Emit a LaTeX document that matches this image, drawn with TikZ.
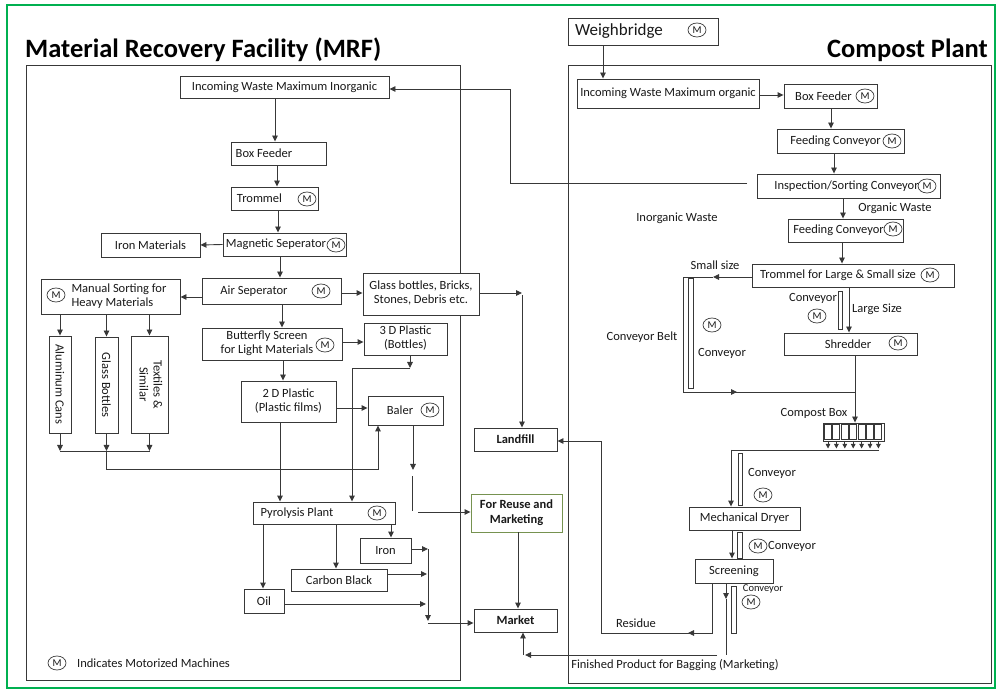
\documentclass[tikz,border=0pt]{standalone}
\usepackage{fontspec}
\setmainfont{Carlito}
\usetikzlibrary{arrows.meta,shapes.geometric}
\definecolor{linec}{RGB}{56,56,56}
\definecolor{framegreen}{RGB}{0,176,80}
\definecolor{reusec}{RGB}{118,146,80}
\newcommand{\tlines}[1]{\begin{tabular}{@{}c@{}}#1\end{tabular}}
\newcommand{\tlinesl}[1]{\begin{tabular}{@{}l@{}}#1\end{tabular}}
% trailing space that survives the node's final \unskip
\newcommand{\tgap}[1]{\hspace{#1}\null}
\begin{document}
\begin{tikzpicture}[x=1pt,y=-1pt,
  ln/.style={draw=linec, line width=0.9pt},
  arr/.style={ln, -{Triangle[length=6pt,width=5.5pt]}},
  box/.style={draw=linec, line width=0.9pt, fill=white, inner sep=0pt, text=black!90,
    font=\fontsize{12.5}{14}\selectfont},
  boldbox/.style={box, font=\fontsize{12.5}{14.5}\selectfont\bfseries},
  belt/.style={draw=linec, line width=0.8pt, fill=white, inner sep=0pt},
  motor/.style={ellipse, draw=linec, line width=0.7pt, inner sep=0pt,
    minimum width=18pt, minimum height=14pt, text=black!90, font=\fontsize{10.5}{10.5}\selectfont},
  lbl/.style={inner sep=0pt, text=black!90, font=\fontsize{12.5}{14}\selectfont},
  title/.style={inner sep=0pt, text=black, font=\fontsize{26.5}{30}\selectfont\bfseries}]
\useasboundingbox (0,0) rectangle (999,692);
\fill[white] (0,0) rectangle (999,692);
\draw[framegreen, line width=2pt] (7,5) rectangle (995,688);

% ---------- section frames and titles ----------
\node[title, anchor=base west] (mrftitle) at (25,58) {Material Recovery Facility (MRF)};
\node[title, anchor=base east] (cptitle) at (988,58) {Compost Plant};
\draw[ln] (26,65) rectangle (460,680);
\draw[ln] (568,65) rectangle (991,683);

% ---------- MRF boxes ----------
\node[box, minimum width=209pt, minimum height=22pt] (inorg) at (284.5,87) {Incoming Waste Maximum Inorganic};
\node[box, minimum width=95pt, minimum height=23pt] (bf1) at (278.5,153.5) {Box Feeder\tgap{29pt}};
\node[box, minimum width=87pt, minimum height=23pt] (tr1) at (274.5,198.5) {Trommel\tgap{30pt}};
\node[motor] (m-tr1) at (307,199) {M};
\node[box, minimum width=123pt, minimum height=23pt] (mag) at (284.5,244.5) {Magnetic Seperator\tgap{17pt}};
\node[motor] (m-mag) at (336,245) {M};
\node[box, minimum width=99pt, minimum height=24pt] (ironm) at (150.5,245) {Iron Materials};
\node[box, minimum width=139pt, minimum height=26pt] (air) at (271.5,291) {Air Seperator\tgap{35pt}};
\node[motor] (m-air) at (321,291) {M};
\node[box, minimum width=139pt, minimum height=35pt] (manual) at (110.5,296.5) {\hspace{17pt}\tlinesl{Manual Sorting for\\Heavy Materials}};
\node[motor] (m-manual) at (56,295) {M};
\node[box, rotate=-90, minimum width=97pt, minimum height=22pt] (alum) at (60,384.5) {Aluminum Cans};
\node[box, rotate=-90, minimum width=96pt, minimum height=23pt] (glb) at (106.5,385) {Glass Bottles};
\node[box, rotate=-90, minimum width=97pt, minimum height=37pt] (tex) at (149.5,384.5) {\tlines{Textiles \&\\Similar}};
\node[box, minimum width=116pt, minimum height=42pt] (glass) at (421,294) {\tlines{Glass bottles, Bricks,\\Stones, Debris etc.}};
\node[box, minimum width=140pt, minimum height=32pt] (bfly) at (272,344) {\tlines{Butterfly Screen\\for Light Materials}\tgap{10pt}};
\node[motor] (m-bfly) at (325,345) {M};
\node[box, minimum width=83pt, minimum height=32pt] (p3d) at (405.5,339) {\tlines{3 D Plastic\\(Bottles)}};
\node[box, minimum width=95pt, minimum height=41pt] (p2d) at (288.5,401.5) {\tlines{2 D Plastic\\(Plastic films)}};
\node[box, minimum width=75pt, minimum height=29pt] (baler) at (405.5,410.5) {Baler\tgap{11pt}};
\node[motor] (m-baler) at (430,410) {M};
\node[box, minimum width=142pt, minimum height=22pt] (pyro) at (324,513) {Pyrolysis Plant\tgap{54pt}};
\node[motor] (m-pyro) at (377,513) {M};
\node[box, minimum width=51pt, minimum height=25pt] (iron) at (385.5,550.5) {Iron};
\node[box, minimum width=96pt, minimum height=22pt] (carbon) at (339,580) {Carbon Black};
\node[box, minimum width=40pt, minimum height=24pt] (oil) at (264,601) {Oil};

% ---------- destinations ----------
\node[boldbox, minimum width=83pt, minimum height=23pt] (landfill) at (515.5,439.5) {Landfill};
\node[boldbox, draw=reusec, minimum width=91pt, minimum height=38pt] (reuse) at (516.5,513) {\tlines{For Reuse and\\Marketing}};
\node[boldbox, minimum width=83pt, minimum height=23pt] (market) at (515.5,620.5) {Market};

% ---------- legend ----------
\node[motor] (m-legend) at (57,663) {M};
\node[lbl, anchor=west] (legend) at (77,663) {Indicates Motorized Machines};

% ---------- compost plant boxes ----------
\node[box, font=\fontsize{17}{20}\selectfont, minimum width=150pt, minimum height=27pt] (weigh) at (643,31.5) {Weighbridge\tgap{48pt}};
\node[motor] (m-weigh) at (697,30) {M};
\node[box, minimum width=182pt, minimum height=29pt] (org) at (668,93.5) {Incoming Waste Maximum organic};
\node[box, minimum width=93pt, minimum height=24pt] (bf2) at (830.5,96) {Box Feeder\tgap{14pt}};
\node[motor] (m-bf2) at (865,96) {M};
\node[box, minimum width=127pt, minimum height=24pt] (feed1) at (840.5,141) {Feeding Conveyor\tgap{10pt}};
\node[motor] (m-feed1) at (892,141) {M};
\node[box, minimum width=183pt, minimum height=24pt] (insp) at (848.5,186) {Inspection/Sorting Conveyor\tgap{4pt}};
\node[motor] (m-insp) at (927,186) {M};
\node[box, minimum width=115pt, minimum height=23pt] (feed2) at (845.5,230.5) {Feeding Conveyor\tgap{14pt}};
\node[motor] (m-feed2) at (893,229) {M};
\node[box, minimum width=202pt, minimum height=23pt] (trom2) at (853,275.5) {Trommel for Large \& Small size\tgap{30pt}};
\node[motor] (m-trom2) at (930,275) {M};
\node[box, minimum width=133pt, minimum height=22pt] (shred) at (850.5,344) {Shredder\tgap{5pt}};
\node[motor] (m-shred) at (898,343) {M};
\node[box, minimum width=61pt, minimum height=18pt] (cbox) at (853.5,432) {};
\foreach \i in {0,...,6} {
  \draw[ln, line width=0.9pt] (824.5+8.4*\i,424.5) rectangle (831.5+8.4*\i,439.5);
  \draw[ln, line width=0.8pt, -{Triangle[length=4.5pt,width=4.5pt]}] (828+8.4*\i,441) -- (828+8.4*\i,448.5);
}
\node[box, minimum width=111pt, minimum height=23pt] (dryer) at (744.5,518.5) {Mechanical Dryer};
\node[box, minimum width=78pt, minimum height=24pt] (screen) at (734,571) {Screening};

% ---------- conveyor belts ----------
\node[belt, minimum width=5pt, minimum height=110pt] (belt1) at (690.5,333) {};
\node[belt, minimum width=4pt, minimum height=38pt] (belt2) at (840,310) {};
\node[belt, minimum width=4pt, minimum height=52pt] (belt3) at (740,479) {};
\node[belt, minimum width=5pt, minimum height=26pt] (belt4) at (739.5,545) {};
\node[belt, minimum width=5pt, minimum height=47pt] (belt5) at (733.5,609.5) {};

% ---------- compost labels ----------
\node[lbl] (l-org) at (895,208) {Organic Waste};
\node[lbl] (l-inorg) at (677,218) {Inorganic Waste};
\node[lbl] (l-small) at (715,265) {Small size};
\node[lbl] (l-belt) at (642,337) {Conveyor Belt};
\node[motor] (m-belt1) at (712,325) {M};
\node[lbl] (l-conv1) at (722,353) {Conveyor};
\node[lbl] (l-conv2) at (813,298) {Conveyor};
\node[motor] (m-belt2) at (817,316) {M};
\node[lbl] (l-large) at (877,309) {Large Size};
\node[lbl] (l-cbox) at (814,413) {Compost Box};
\node[lbl] (l-conv3) at (772,473) {Conveyor};
\node[motor] (m-belt3) at (763,495) {M};
\node[motor] (m-belt4) at (758,546) {M};
\node[lbl] (l-conv4) at (792,546) {Conveyor};
\node[lbl, font=\fontsize{10.5}{12}\selectfont] (l-conv5) at (763,589) {Conveyor};
\node[motor] (m-belt5) at (751,602) {M};
\node[lbl] (l-res) at (636,623) {Residue};
\node[lbl] (l-fin) at (675,665) {Finished Product for Bagging (Marketing)};

% ---------- MRF flow ----------
\draw[arr] (inorg.south -| 275,0) -- (bf1.north -| 275,0);
\draw[arr] (bf1.south -| 277,0) -- (tr1.north -| 277,0);
\draw[arr] (tr1.south -| 278,0) -- (mag.north -| 278,0);
\draw[arr] (mag.west) -- (ironm.east);
\draw[arr] (mag.south -| 280,0) -- (air.north -| 280,0);
\draw[arr] (air.west |- 0,297) -- (manual.east |- 0,297);
\draw[arr] (air.east |- 0,293) -- (glass.west |- 0,293);
\draw[arr] (air.south -| 282,0) -- (bfly.north -| 282,0);
\draw[arr] (bfly.east |- 0,342) -- (p3d.west |- 0,342);
\draw[arr] (bfly.south -| 283,0) -- (p2d.north -| 283,0);
\draw[arr] (manual.south -| alum.center) -- (alum.west);
\draw[arr] (manual.south -| glb.center) -- (glb.west);
\draw[arr] (manual.south -| tex.center) -- (tex.west);
\draw[arr] (alum.east) -- (alum.east |- 0,451);
\draw[arr] (glb.east) -- (glb.east |- 0,451);
\draw[arr] (tex.east) -- (tex.east |- 0,451);
\draw[ln] (alum.east |- 0,451) -- (tex.east |- 0,451);
\draw[arr] (glb.east |- 0,451) -- (glb.east |- 0,469) -| (baler.south -| 378,0);
\draw[arr] (p2d.east |- 0,408) -- (baler.west |- 0,408);
\draw[arr] (p2d.south -| 280,0) -- (pyro.north -| 280,0);
\coordinate (p3d-turn) at (410,368);
\draw[arr] (p3d.south -| p3d-turn) -- (p3d-turn);
\draw[arr] (p3d-turn) -| (pyro.north -| 352,0);
\coordinate (baler-out) at (413,470);
\draw[arr] (baler.south -| baler-out) -- (baler-out);
\draw[ln] (412,476) -- (412,511);
\draw[arr] (418,512) -- (reuse.west |- 0,512);
\coordinate (glass-turn) at (522,293);
\draw[arr] (glass.east |- glass-turn) -- (glass-turn);
\draw[arr] (522,295) -- (landfill.north -| 522,0);
\draw[arr] (pyro.south -| 263,0) -- (oil.north -| 263,0);
\draw[arr] (pyro.south -| 336,0) -- (carbon.north -| 336,0);
\draw[arr] (pyro.south -| 391,0) -- (iron.north -| 391,0);
\draw[arr] (iron.east |- 0,549) -- (428,549);
\draw[arr] (carbon.east |- 0,574) -- (427,574);
\draw[arr] (oil.east |- 0,604) -- (426,604);
\draw[arr] (428,549) -- (428,621);
\draw[arr] (428,623) -- (market.west |- 0,623);
\draw[arr] (reuse.south -| 518,0) -- (market.north -| 518,0);

% ---------- compost flow ----------
\draw[arr] (weigh.south -| 603,0) -- (org.north -| 603,0);
\draw[arr] (org.east |- 0,95) -- (bf2.west |- 0,95);
\draw[arr] (bf2.south -| 831,0) -- (feed1.north -| 831,0);
\draw[arr] (feed1.south -| 834,0) -- (insp.north -| 834,0);
\coordinate (insp-out) at (747,183);
\draw[arr] (insp-out) -| (510,89) -- (inorg.east |- 0,89);
\draw[arr] (insp.south -| 843,0) -- (feed2.north -| 843,0);
\draw[arr] (feed2.south -| 842,0) -- (trom2.north -| 842,0);
\draw[arr] (trom2.west |- 0,277) -- (713,277);
\draw[ln] (713,277) -- (683,277) -- (683,392) -- (855,392);
\draw[arr] (683,392) -- (737,392);
\draw[arr] (trom2.south -| 849,0) -- (shred.north -| 849,0);
\draw[arr] (shred.south -| 855,0) -- (cbox.north -| 855,0);
\draw[ln] (879,450) -- (731,450);
\draw[arr] (731,450) -- (dryer.north -| 731,0);
\draw[arr] (dryer.south -| 732,0) -- (screen.north -| 732,0);
\draw[ln] (screen.south -| 712,0) -- (712,633) -- (601,633);
\draw[arr] (712,633) -- (688,633);
\draw[arr] (601,633) -- (601,441) -- (landfill.east |- 0,441);
\draw[arr] (screen.south -| 726,0) -- (726,599);
\draw[ln] (726,599) -- (726,655);
\draw[arr] (717,655) -- (525,655);
\draw[arr] (523,655) -- (market.south -| 523,0);
\end{tikzpicture}
\end{document}
